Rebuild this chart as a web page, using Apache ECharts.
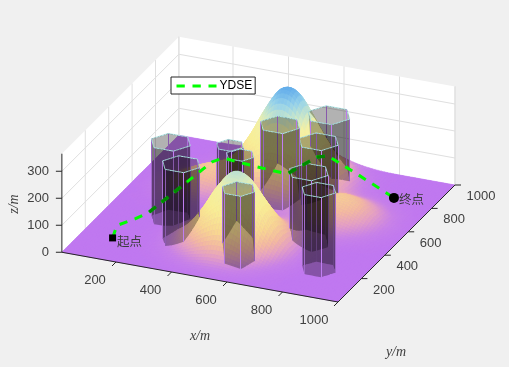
<!DOCTYPE html>
<html><head><meta charset="utf-8">
<style>html,body{margin:0;padding:0;background:#f0f0f0}#c{width:509px;height:367px}</style>
<script src="https://cdn.jsdelivr.net/npm/echarts@6/dist/echarts.min.js"></script>
</head><body><div id="c"></div>
<script>
// ---------- chart values ----------
const xTicks=[200,400,600,800,1000];
const yTicks=[200,400,600,800,1000];
const zTicks=[0,100,200,300];
const xLimits=[5,1000], yLimits=[0,1000], zLimits=[0,365];
const gridStep=50;
const z000=[0,0,0,0,0,0,0,1,1,2,3,3,2,1,0,0,0,0,0,0,0];
const z050=[0,0,0,0,0,0,1,3,6,10,13,12,9,5,2,1,0,0,0,0,0];
const z100=[0,0,0,0,0,1,3,9,19,32,41,39,28,15,6,2,0,0,0,0,0];
const z150=[0,0,0,0,0,2,7,21,47,78,99,95,68,37,15,5,1,0,0,0,0];
const z200=[0,0,0,0,1,3,13,38,85,144,182,174,125,68,28,9,2,0,0,0,0];
const z250=[0,0,0,0,1,5,18,53,118,198,251,240,173,94,39,12,3,0,0,0,0];
const z300=[0,0,0,0,1,5,19,55,122,206,261,249,180,98,40,12,3,1,0,0,0];
const z350=[0,0,0,0,1,4,15,43,96,161,205,196,141,78,33,12,4,1,0,0,0];
const z400=[0,0,0,0,1,3,9,26,57,95,121,116,85,49,25,13,8,4,2,1,0];
const z450=[0,0,1,1,3,4,6,13,26,43,55,53,42,31,26,24,20,12,6,2,0];
const z500=[0,1,2,5,10,12,11,10,12,17,21,22,23,30,41,48,42,27,12,4,1];
const z550=[0,1,6,15,27,33,27,18,14,14,15,17,23,40,62,74,65,42,20,7,2];
const z600=[0,3,10,28,51,62,54,40,34,35,34,31,34,48,72,86,75,48,23,8,2];
const z650=[1,3,13,35,65,81,77,70,75,86,85,69,54,52,64,72,62,40,19,6,2];
const z700=[0,3,11,30,55,75,85,105,141,172,171,135,88,58,48,46,38,24,11,4,1];
const z750=[0,1,6,17,33,54,84,139,213,270,269,210,129,67,36,24,18,11,5,2,0];
const z800=[0,0,2,7,17,38,81,159,257,331,330,256,155,75,31,13,7,4,2,1,0];
const z850=[0,0,1,3,9,27,70,147,243,314,314,243,146,69,26,8,3,1,0,0,0];
const z900=[0,0,0,1,5,19,50,108,179,232,232,179,108,50,18,5,1,0,0,0,0];
const z950=[0,0,0,1,3,10,29,61,102,132,132,102,61,29,10,3,1,0,0,0,0];
const z1000=[0,0,0,0,1,5,13,27,45,58,58,45,27,13,5,1,0,0,0,0,0];
const cylX=[237,343,440,500,532,619,658,737,843,587];
const cylY=[381,218,406,350,615,826,646,375,209,131];
const cylR=[70,67,48,49,70,75,70,69,60,58];
const cylH=[285,294,300,300,303,263,250,270,295,285];
const pathX=[116,149,184,206,230,245,267,398,511,551,581,725,853];
const pathY=[170,129,200,260,536,714,756,736,724,885,908,815,827];
const pathZ=[0,70,70,70,70,70,70,70,70,70,70,70,0];
const pathDim=[0,0,0,1,0,0,0,0,1,1,0,0];
const seriesName='YDSE';
const startLabel='起点', endLabel='终点';
// ---------- camera and colours ----------
const cam={ox:60.5,oy:252,xx:.2775,xy:.05,yx:.117,yy:-.117,zy:-.27};
const stops=[[0,192,120,240],[12,200,130,232],[35,228,160,195],[60,243,185,160],[100,248,215,145],[160,248,238,150],[220,243,240,165],[255,205,232,200],[300,150,210,235],[345,95,170,235]];
const zRows=[z000,z050,z100,z150,z200,z250,z300,z350,z400,z450,z500,z550,z600,z650,z700,z750,z800,z850,z900,z950,z1000];
const P=(x,y,z)=>[cam.ox+cam.xx*x+cam.yx*y, cam.oy+cam.xy*x+cam.yy*y+cam.zy*z];
const depth=(x,y)=>(.117*x-.2775*y)/.301;
function cr(a,b,c,d,t){return b+.5*t*(c-a+t*(2*a-5*b+4*c-d+t*(3*(b-c)+d-a)));}
function H(x,y){
  const n=zRows.length-1, gx=Math.min(n,Math.max(0,x/gridStep)), gy=Math.min(n,Math.max(0,y/gridStep));
  const i=Math.min(n-1,Math.floor(gx)), j=Math.min(n-1,Math.floor(gy)), tx=gx-i, ty=gy-j;
  const c=k=>Math.max(0,Math.min(n,k));
  const row=r=>cr(zRows[r][c(i-1)],zRows[r][i],zRows[r][i+1],zRows[r][c(i+2)],tx);
  return Math.max(0,cr(row(c(j-1)),row(j),row(j+1),row(c(j+2)),ty));
}
function colorOf(z){
  for(let k=1;k<stops.length;k++) if(z<=stops[k][0]){
    const a=stops[k-1],b=stops[k],t=(z-a[0])/(b[0]-a[0]);
    return 'rgb('+[1,2,3].map(m=>Math.round(a[m]+(b[m]-a[m])*t)).join(',')+')';
  }
  const s=stops[stops.length-1];return `rgb(${s[1]},${s[2]},${s[3]})`;
}
// ---------- primitives ----------
const frame=[],scene=[],dims=[],top_=[],texts=[];
const [x0,x1]=xLimits,[y0,y1]=yLimits,[zb,zt]=zLimits;
const poly=(pts,fill,stroke,lw)=>({t:'polygon',pts,fill,stroke,lw});
const line=(pts,stroke,lw)=>({t:'polyline',pts,stroke,lw});
frame.push(poly([P(x0,y0,zb),P(x0,y1,zb),P(x0,y1,zt),P(x0,y0,zt)],'#fff'));
frame.push(poly([P(x0,y1,zb),P(x1,y1,zb),P(x1,y1,zt),P(x0,y1,zt)],'#fff'));
const gridC='#dfdfdf';
xTicks.forEach(v=>frame.push(line([P(v,y1,zb),P(v,y1,zt)],gridC,1)));
yTicks.forEach(v=>frame.push(line([P(x0,v,zb),P(x0,v,zt)],gridC,1)));
zTicks.filter(v=>v>0).forEach(v=>frame.push(line([P(x0,y0,v),P(x0,y1,v),P(x1,y1,v)],gridC,1)));
frame.push(line([P(x0,y1,zb),P(x0,y1,zt)],gridC,1));
frame.push(line([P(x1,y1,zb),P(x1,y1,zt)],gridC,1));
frame.push(poly([P(x0,y0,0),P(x1,y0,0),P(x1,y1,0),P(x0,y1,0)],colorOf(0)));
// surface cells
const N=90,sx=(x1-x0)/N,sy=(y1-y0)/N;
for(let i=0;i<N;i++)for(let j=0;j<N;j++){
  const xa=x0+i*sx,xb=xa+sx,ya=y0+j*sy,yb=ya+sy;
  const h=[H(xa,ya),H(xb,ya),H(xb,yb),H(xa,yb)];
  const m=(h[0]+h[1]+h[2]+h[3])/4, c=colorOf(m);
  scene.push({k:depth((xa+xb)/2,(ya+yb)/2),...poly([P(xa,ya,h[0]),P(xb,ya,h[1]),P(xb,yb,h[2]),P(xa,yb,h[3])],c,c,.6)});
}
// cylinders
const faceFill='rgba(0,0,0,0.3)',edgeC='#c07ef2',ringC='#ade4e4',wallBias=9;
const vert=(c,k)=>{const a=k*Math.PI/3;return [cylX[c]+cylR[c]*Math.cos(a),cylY[c]+cylR[c]*Math.sin(a)];};
cylX.forEach((_,c)=>{
  const top=cylH[c];
  for(let k=0;k<6;k++){
    const A=vert(c,k),B=vert(c,k+1),pa=P(A[0],A[1],0)[0],pb=P(B[0],B[1],0)[0];
    const lo=Math.min(pa,pb),hi=Math.max(pa,pb),bs=[lo];
    for(let X=Math.floor(lo/3)*3+3;X<hi;X+=3) if(X>lo) bs.push(X);
    bs.push(hi);
    for(let b=0;b+1<bs.length;b++){
      const at=X=>{const t=(X-pa)/(pb-pa);return [A[0]+(B[0]-A[0])*t,A[1]+(B[1]-A[1])*t];};
      const u=at(bs[b]),w=at(bs[b+1]);
      const hu=Math.min(top,H(u[0],u[1])),hw=Math.min(top,H(w[0],w[1]));
      if(hu>=top&&hw>=top) continue;
      scene.push({k:depth((u[0]+w[0])/2,(u[1]+w[1])/2)+wallBias,...poly([P(u[0],u[1],hu),P(w[0],w[1],hw),P(w[0],w[1],top),P(u[0],u[1],top)],faceFill)});
    }
    const hA=H(A[0],A[1]);
    if(hA<top){
      const pl=P(A[0],A[1],hA),pu=P(A[0],A[1],top),sxv=Math.floor(pl[0])+.5;
      scene.push({k:depth(A[0],A[1])+wallBias+.02,...line([[sxv,pl[1]],[sxv,pu[1]]],edgeC,1)});
    }
    const S=8;
    for(let s=0;s<S;s++){
      const a=[A[0]+(B[0]-A[0])*s/S,A[1]+(B[1]-A[1])*s/S],b=[A[0]+(B[0]-A[0])*(s+1)/S,A[1]+(B[1]-A[1])*(s+1)/S];
      scene.push({k:depth((a[0]+b[0])/2,(a[1]+b[1])/2)+wallBias+.03,...line([P(a[0],a[1],top),P(b[0],b[1],top)],ringC,1)});
    }
  }
});
scene.sort((a,b)=>a.k-b.k);
// path: dashes that sit behind cylinder walls get a darker overlay
const sp=pathX.map((x,i)=>P(x,pathY[i],pathZ[i]));
{
  let walked=0;const on=8.3,per=16;
  for(let i=0;i+1<sp.length;i++){
    const a=sp[i],b=sp[i+1],len=Math.hypot(b[0]-a[0],b[1]-a[1]);
    let cur=[];
    for(let s=0;s<len;s+=.5){
      const e=Math.min(len,s+.5),pa=[a[0]+(b[0]-a[0])*s/len,a[1]+(b[1]-a[1])*s/len],pb=[a[0]+(b[0]-a[0])*e/len,a[1]+(b[1]-a[1])*e/len];
      if(((walked+s)%per)<on){ if(!cur.length)cur.push(pa); cur.push(pb);}
      else if(cur.length){ if(pathDim[i]) dims.push(line(cur,'rgb(0,135,0)',3.3)); cur=[]; }
    }
    if(cur.length&&pathDim[i]) dims.push(line(cur,'rgb(0,135,0)',3.3));
    walked+=len;
  }
}
// markers
const ms=P(pathX[0],pathY[0],pathZ[0]),me=P(pathX[12],pathY[12],pathZ[12]);
top_.push({t:'rect',c:ms,size:7,fill:'#000'});
top_.push({t:'circle',c:me,r:5,fill:'#000'});
// axes
const axC='#262626';
top_.push(line([P(x0,y0,0),P(x1,y0,0)],axC,1));
top_.push(line([P(x1,y0,0),P(x1,y1,0)],axC,1));
top_.push(line([P(x0,y0,0),P(x0,y0,zt)],axC,1));
const tickFont='13px "Liberation Sans",Arial,sans-serif',tickC='#404040';
xTicks.forEach(v=>{const p=P(v,y0,0);top_.push(line([p,[p[0]-4,p[1]+4]],axC,1));
  texts.push({s:String(v),x:p[0]-21-(v===1000?3:0),y:p[1]+18.5,font:tickFont,fill:tickC,align:'center'});});
yTicks.forEach(v=>{const p=P(x1,v,0);top_.push(line([p,[p[0]+6,p[1]]],axC,1));
  texts.push({s:String(v),x:p[0]+11.6,y:p[1]+11.4,font:tickFont,fill:tickC,align:'left'});});
zTicks.forEach(v=>{const p=P(x0,y0,v);top_.push(line([p,[p[0]-6,p[1]]],axC,1));
  texts.push({s:String(v),x:49,y:p[1],font:tickFont,fill:tickC,align:'right'});});
const labFont='italic 14px "Liberation Serif","Times New Roman",serif';
texts.push({s:'x/m',x:200,y:336,font:labFont,fill:tickC,align:'center'});
texts.push({s:'y/m',x:396,y:352,font:labFont,fill:tickC,align:'center'});
texts.push({s:'z/m',x:14,y:204,font:labFont,fill:tickC,align:'center',rot:Math.PI/2});
const cjk='12.5px "Noto Sans CJK SC",sans-serif';
texts.push({s:startLabel,x:117,y:241,font:cjk,fill:'#3c3c3c',align:'left'});
texts.push({s:endLabel,x:399,y:199.5,font:cjk,fill:'#3c3c3c',align:'left'});

function drawer(list){
  return (params,api)=>{
    const d=list[params.dataIndex],M=p=>api.coord(p);
    if(d.t==='polygon') return {type:'polygon',silent:true,shape:{points:d.pts.map(M)},style:{fill:d.fill,stroke:d.stroke||null,lineWidth:d.lw||0}};
    if(d.t==='polyline') return {type:'polyline',silent:true,shape:{points:d.pts.map(M)},style:{fill:null,stroke:d.stroke,lineWidth:d.lw}};
    if(d.t==='rect'){const c=M(d.c);return {type:'rect',silent:true,shape:{x:c[0]-d.size/2,y:c[1]-d.size/2,width:d.size,height:d.size},style:{fill:d.fill}};}
    if(d.t==='circle'){const c=M(d.c);return {type:'circle',silent:true,shape:{cx:c[0],cy:c[1],r:d.r},style:{fill:d.fill}};}
  };
}
const layer=(list,z)=>({type:'custom',coordinateSystem:'cartesian2d',silent:true,animation:false,progressive:0,z,clip:false,
  encode:{x:0,y:1},data:list.map((_,i)=>[i,0]),renderItem:drawer(list)});
const textLayer={type:'custom',coordinateSystem:'cartesian2d',silent:true,animation:false,z:9,clip:false,
  data:texts.map((_,i)=>[i,0]),encode:{x:0,y:1},
  renderItem:(p,api)=>{const d=texts[p.dataIndex],c=api.coord([d.x,d.y]);
    return {type:'text',silent:true,x:c[0],y:c[1],rotation:d.rot||0,style:{text:d.s,font:d.font,fill:d.fill,align:d.align,verticalAlign:'middle'}};}};
const chart=echarts.init(document.getElementById('c'),null,{renderer:'canvas'});
chart.setOption({
  animation:false,backgroundColor:'#f0f0f0',
  grid:{left:0,right:0,top:0,bottom:0},
  xAxis:{type:'value',min:0,max:509,show:false},
  yAxis:{type:'value',min:0,max:367,inverse:true,show:false},
  legend:{left:171,top:77,orient:'horizontal',padding:[3,3,2,4],backgroundColor:'#fff',borderColor:'#262626',borderWidth:1,borderRadius:0,
    itemWidth:40,itemHeight:14,itemGap:0,itemStyle:{color:'rgba(0,0,0,0)',borderColor:'rgba(0,0,0,0)',borderWidth:0,opacity:0},
    lineStyle:{color:'#00ff00',width:3,type:[8.3,7.7]},
    textStyle:{fontSize:12,color:'#000',fontFamily:'Liberation Sans',padding:[0,0,0,-2]},data:[seriesName]},
  series:[layer(frame,1),layer(scene,2),
    {type:'line',name:seriesName,data:sp,symbol:'none',z:3,clip:false,silent:true,animation:false,lineStyle:{color:'#00ff00',width:3,type:[8.3,7.7]},itemStyle:{color:'#00ff00'}},
    layer(dims,4),layer(top_,5),textLayer]
});
</script></body></html>
